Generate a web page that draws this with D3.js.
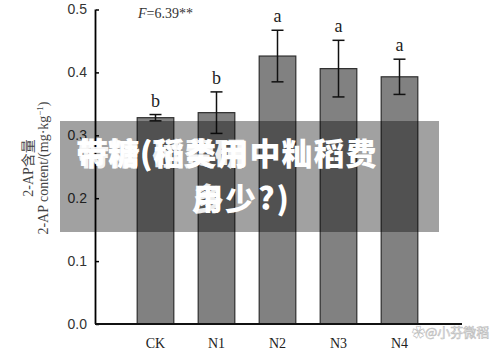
<!DOCTYPE html>
<html>
  <head>
    <meta charset="utf-8">
    <title>2-AP content</title>
    <script src="https://d3js.org/d3.v7.min.js"></script>
    <style>
      body { margin: 0; background: #fff; }
      svg { display: block; }
    </style>
  </head>
  <body>
    <svg id="chart" width="500" height="354"></svg>
    <script>
      // values
      var groups = ["CK", "N1", "N2", "N3", "N4"];
      var means = [0.328, 0.336, 0.426, 0.406, 0.393];
      var errors = [0.005, 0.033, 0.041, 0.045, 0.028];
      var letters = ["b", "b", "a", "a", "a"];
      var yTicks = [0.0, 0.1, 0.2, 0.3, 0.4, 0.5];

      var svg = d3.select("#chart");

      var x = d3.scaleBand()
        .domain(groups)
        .range([125, 430])
        .paddingInner(0.4)
        .paddingOuter(0.2);
      var y = d3.scaleLinear()
        .domain([0, 0.5])
        .range([324, 9.5]);

      // bars
      svg.append("g").selectAll("rect")
        .data(groups)
        .enter().append("rect")
          .attr("x", function(d) { return x(d); })
          .attr("y", function(d, i) { return y(means[i]); })
          .attr("width", x.bandwidth())
          .attr("height", function(d, i) { return y(0) - y(means[i]); })
          .attr("fill", "#818181")
          .attr("stroke", "#2e2e2e")
          .attr("stroke-width", 1.2);

      // error bars
      var err = svg.append("g").attr("stroke", "#111").attr("stroke-width", 1.5);
      groups.forEach(function(g, i) {
        var cx = x(g) + x.bandwidth() / 2;
        var top = y(means[i] + errors[i]), bot = y(means[i] - errors[i]);
        err.append("line").attr("x1", cx).attr("x2", cx).attr("y1", top).attr("y2", bot);
        err.append("line").attr("x1", cx - 6).attr("x2", cx + 6).attr("y1", top).attr("y2", top);
        err.append("line").attr("x1", cx - 6).attr("x2", cx + 6).attr("y1", bot).attr("y2", bot);
      });

      // significance letters
      svg.append("g").selectAll("text")
        .data(groups)
        .enter().append("text")
          .attr("x", function(d) { return x(d) + x.bandwidth() / 2; })
          .attr("y", function(d, i) { return y(means[i] + errors[i]) - 8; })
          .attr("text-anchor", "middle")
          .attr("font-family", "Liberation Serif, serif")
          .attr("font-size", 18)
          .attr("fill", "#222")
          .text(function(d, i) { return letters[i]; });

      // y axis, ticks pointing inwards
      var yAxis = d3.axisLeft(y)
        .tickValues(yTicks)
        .tickFormat(d3.format(".1f"))
        .tickSizeInner(-3)
        .tickSizeOuter(-3)
        .tickPadding(9);
      var yg = svg.append("g")
        .attr("transform", "translate(96,0)")
        .call(yAxis);
      yg.select(".domain").attr("stroke-width", 1.8).attr("d", "M-0.5,9.5V324");
      yg.selectAll(".tick line").attr("stroke-width", 1.5);
      yg.selectAll("text")
        .attr("font-family", "Liberation Sans, Arial, sans-serif")
        .attr("font-size", 14)
        .attr("fill", "#333");

      // x axis line
      svg.append("line")
        .attr("x1", 95).attr("x2", 462)
        .attr("y1", y(0)).attr("y2", y(0))
        .attr("stroke", "#111").attr("stroke-width", 2);

      // x labels
      svg.append("g").selectAll("text")
        .data(groups)
        .enter().append("text")
          .attr("x", function(d) { return x(d) + x.bandwidth() / 2; })
          .attr("y", 348)
          .attr("text-anchor", "middle")
          .attr("font-family", "Liberation Serif, serif")
          .attr("font-size", 14)
          .attr("fill", "#222")
          .text(function(d) { return d; });

      // y title, two lines
      var yt = svg.append("g")
        .attr("transform", "translate(0,168) rotate(-90)")
        .attr("font-family", "Liberation Serif, 'Noto Sans CJK SC', serif")
        .attr("font-size", 14)
        .attr("fill", "#444")
        .attr("text-anchor", "middle");
      yt.append("text").attr("x", 0).attr("y", 33).text("2-AP含量");
      yt.append("text").attr("x", 0).attr("y", 48)
        .html("2-AP content/(mg·kg<tspan dy='-5' font-size='9'>−1</tspan><tspan dy='5'>)</tspan>");

      // F statistic
      var ft = svg.append("text")
        .attr("x", 138).attr("y", 18)
        .attr("font-family", "Liberation Serif, serif")
        .attr("font-size", 14)
        .attr("fill", "#333");
      ft.append("tspan").attr("font-style", "italic").text("F");
      ft.append("tspan").text("=6.39**");

      // overlay banner
      svg.append("rect")
        .attr("x", 60).attr("y", 121)
        .attr("width", 379).attr("height", 111)
        .attr("fill", "#000").attr("opacity", 0.37);
      var banner = svg.append("g")
        .attr("font-family", "'Noto Sans CJK SC', sans-serif")
        .attr("font-weight", 900)
        .attr("font-size", 31)
        .attr("fill", "#fff");
      // the reference shows two titles printed on top of each other
      banner.append("text").attr("x", 76).attr("y", 165).attr("letter-spacing", 1).text("带糖(稻类用中籼稻费");
      banner.append("text").attr("x", 78).attr("y", 165).attr("opacity", 0.9).text("特精(碰费研");
      banner.append("text").attr("x", 192).attr("y", 210).attr("letter-spacing", 2).text("用少?)");
      banner.append("text").attr("x", 193).attr("y", 210).attr("opacity", 0.9).text("多");

      // watermark
      svg.append("text")
        .attr("x", 412).attr("y", 337)
        .attr("font-family", "'Noto Sans CJK SC', sans-serif")
        .attr("font-size", 13)
        .attr("fill", "#fff")
        .attr("stroke", "#bbb")
        .attr("stroke-width", 0.6)
        .text("✿@小芬微稻");
    </script>
  </body>
</html>
